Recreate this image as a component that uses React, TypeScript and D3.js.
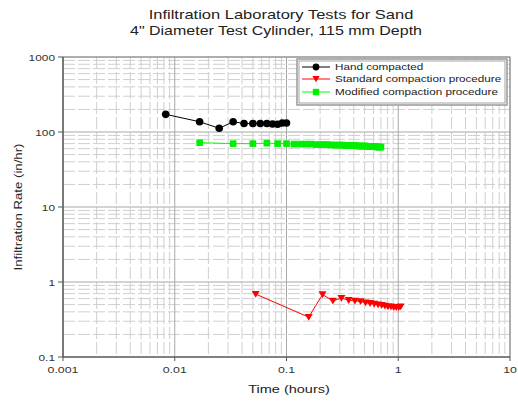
import React from "react";
import * as d3 from "d3";

const title1 = "Infiltration Laboratory Tests for Sand";
const title2 = "4\" Diameter Test Cylinder, 115 mm Depth";
const xLabel = "Time (hours)";
const yLabel = "Infiltration Rate (in/hr)";

const xTicks = [0.001, 0.01, 0.1, 1, 10];
const xTickLabels = ["0.001", "0.01", "0.1", "1", "10"];
const yTicks = [0.1, 1, 10, 100, 1000];
const yTickLabels = ["0.1", "1", "10", "100", "1000"];

const seriesNames = ["Hand compacted", "Standard compaction procedure", "Modified compaction procedure"];

const handTime = [0.0083, 0.0167, 0.025, 0.0333, 0.0417, 0.05, 0.0583, 0.0667, 0.075, 0.0833, 0.0917, 0.1];
const handRate = [172, 137, 112, 137, 130, 130, 130, 130, 128, 127, 132, 132];

const stdTime = [0.053, 0.158, 0.21, 0.26, 0.31, 0.36, 0.41, 0.46, 0.51, 0.56, 0.61, 0.66, 0.71, 0.76, 0.81, 0.86, 0.91, 0.96, 1.01, 1.05];
const stdRate = [0.69, 0.34, 0.68, 0.56, 0.61, 0.57, 0.56, 0.55, 0.53, 0.52, 0.51, 0.5, 0.49, 0.48, 0.47, 0.47, 0.46, 0.46, 0.46, 0.47];

const modTime = [0.0167, 0.0333, 0.05, 0.0667, 0.0833, 0.1, 0.1167, 0.1333, 0.15, 0.1667, 0.1833, 0.2, 0.2167, 0.2333, 0.25, 0.2667, 0.2833, 0.3, 0.3167, 0.3333, 0.35, 0.3667, 0.3833, 0.4, 0.4167, 0.4333, 0.45, 0.4667, 0.4833, 0.5, 0.5167, 0.5333, 0.55, 0.5667, 0.5833, 0.6, 0.6167, 0.6333, 0.65, 0.6667, 0.6833, 0.7];
const modRate = [72, 70, 70, 71, 70, 70, 69, 69, 69, 69, 68, 68, 68, 68, 67, 67, 67, 67, 67, 66, 66, 66, 66, 66, 66, 65, 65, 65, 65, 65, 65, 64, 64, 64, 64, 64, 64, 64, 63, 63, 63, 63];

const FONT = "'Liberation Sans', Arial, sans-serif";

function SText(props: { x: number; y: number; sx: number; size: number; anchor?: string; children: string; fill?: string; rotate?: number }) {
  const { x, y, sx, size, anchor = "start", children, fill = "#222", rotate = 0 } = props;
  return (
    <g transform={`translate(${x},${y}) rotate(${rotate}) scale(${sx},1)`}>
      <text x={0} y={0} textAnchor={anchor as any} fontFamily={FONT} fontSize={size} fill={fill}>{children}</text>
    </g>
  );
}

export default function App() {
  const left = 63, right = 510, top = 57, bottom = 357;
  const x = d3.scaleLog().domain([0.001, 10]).range([left, right]);
  const y = d3.scaleLog().domain([0.1, 1000]).range([bottom, top]);

  const minorX: number[] = [];
  const minorY: number[] = [];
  xTicks.slice(0, -1).forEach((d) => {
    d3.range(2, 10).forEach((m) => minorX.push(d * m));
  });
  yTicks.slice(0, -1).forEach((d) => {
    d3.range(2, 10).forEach((m) => minorY.push(d * m));
  });

  const line = d3
    .line<[number, number]>()
    .x((d) => x(d[0]))
    .y((d) => y(d[1]));

  const hand = handTime.map((t, i) => [t, handRate[i]] as [number, number]);
  const std = stdTime.map((t, i) => [t, stdRate[i]] as [number, number]);
  const mod = modTime.map((t, i) => [t, modRate[i]] as [number, number]);

  const tri = (cx: number, cy: number, s = 4) => `M${cx - s},${cy - s * 0.8}L${cx + s},${cy - s * 0.8}L${cx},${cy + s * 0.9}Z`;

  const legendX = 297, legendY = 59, legendW = 210, legendH = 46;
  const legendRows = [67, 79, 92];

  return (
    <svg width={518} height={402} style={{ position: "absolute", left: 0, top: 0, background: "#fff" }}>
      <rect x={0} y={0} width={518} height={402} fill="#fff" />
      <SText x={281} y={19} sx={1.27} size={13} anchor="middle">{title1}</SText>
      <SText x={276} y={35} sx={1.23} size={13} anchor="middle">{title2}</SText>

      {minorX.map((v, i) => (
        <line key={"mx" + i} x1={x(v)} x2={x(v)} y1={top} y2={bottom} stroke="#cfcfcf" strokeWidth={1} strokeDasharray="12,3" />
      ))}
      {minorY.map((v, i) => (
        <line key={"my" + i} x1={left} x2={right} y1={y(v)} y2={y(v)} stroke="#cfcfcf" strokeWidth={1} strokeDasharray="12,3" />
      ))}
      {xTicks.map((v, i) => (
        <line key={"gx" + i} x1={x(v)} x2={x(v)} y1={top} y2={bottom} stroke="#a8a8a8" strokeWidth={1} />
      ))}
      {yTicks.map((v, i) => (
        <line key={"gy" + i} x1={left} x2={right} y1={y(v)} y2={y(v)} stroke="#a8a8a8" strokeWidth={1} />
      ))}

      <rect x={left} y={top} width={right - left} height={bottom - top} fill="none" stroke="#888" strokeWidth={1} />
      <line x1={left} x2={left} y1={top} y2={bottom} stroke="#555" strokeWidth={1.2} />
      <line x1={left} x2={right} y1={bottom} y2={bottom} stroke="#555" strokeWidth={1.2} />

      {xTicks.map((v, i) => (
        <g key={"xt" + i}>
          <line x1={x(v)} x2={x(v)} y1={bottom} y2={bottom + 4} stroke="#555" />
          <SText x={x(v)} y={bottom + 16} sx={1.3} size={9.5} anchor="middle" fill="#333">{xTickLabels[i]}</SText>
        </g>
      ))}
      {yTicks.map((v, i) => (
        <g key={"yt" + i}>
          <line x1={left - 5} x2={left} y1={y(v)} y2={y(v)} stroke="#555" />
          <SText x={left - 8} y={y(v) + 3.5} sx={1.25} size={9.5} anchor="end" fill="#333">{yTickLabels[i]}</SText>
        </g>
      ))}

      <SText x={289} y={393} sx={1.32} size={11} anchor="middle">{xLabel}</SText>
      <SText x={22} y={(top + bottom) / 2} sx={1.15} size={11.5} anchor="middle" rotate={-90}>{yLabel}</SText>

      <path d={line(hand) || ""} fill="none" stroke="#000" strokeWidth={1} />
      {hand.map((d, i) => (
        <circle key={"h" + i} cx={x(d[0])} cy={y(d[1])} r={3.8} fill="#000" />
      ))}
      <path d={line(mod) || ""} fill="none" stroke="#00ff00" strokeWidth={1} />
      {mod.map((d, i) => (
        <rect key={"m" + i} x={x(d[0]) - 3.3} y={y(d[1]) - 3.3} width={6.6} height={6.6} fill="#00ee00" />
      ))}
      <path d={line(std) || ""} fill="none" stroke="#ff0000" strokeWidth={1} />
      {std.map((d, i) => (
        <path key={"s" + i} d={tri(x(d[0]), y(d[1]))} fill="#ff0000" />
      ))}

      <rect x={legendX} y={legendY} width={legendW} height={legendH} fill="#fff" stroke="#999" strokeWidth={1.5} />
      <rect x={legendX + 2} y={legendY + 2} width={legendW - 4} height={legendH - 4} fill="none" stroke="#666" strokeWidth={0.6} />
      <line x1={302} x2={330} y1={legendRows[0]} y2={legendRows[0]} stroke="#000" />
      <circle cx={316} cy={legendRows[0]} r={3.4} fill="#000" />
      <line x1={302} x2={330} y1={legendRows[1]} y2={legendRows[1]} stroke="#ff0000" />
      <path d={tri(316, legendRows[1], 3.6)} fill="#ff0000" />
      <line x1={302} x2={330} y1={legendRows[2]} y2={legendRows[2]} stroke="#00ff00" />
      <rect x={316 - 3.2} y={legendRows[2] - 3.2} width={6.4} height={6.4} fill="#00ee00" />
      {seriesNames.map((n, i) => (
        <SText key={"ln" + i} x={335} y={legendRows[i] + 3.3} sx={1.3} size={9} fill="#222">{n}</SText>
      ))}
    </svg>
  );
}
